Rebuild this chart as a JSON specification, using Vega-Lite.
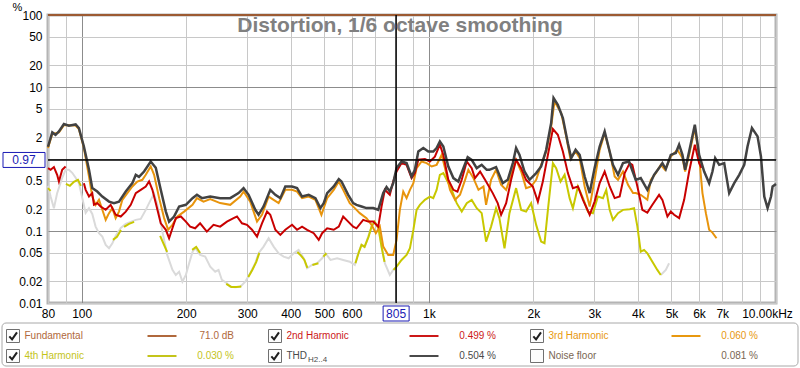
{
"$schema": "https://vega.github.io/schema/vega-lite/v6.json",
"width": 728, "height": 288,
"autosize": {"type": "none"},
"padding": {"left": 48, "top": 15, "right": 24, "bottom": 65},
"background": "white",
"config": {
  "view": {"stroke": "#b4b4b4", "strokeWidth": 3},
  "font": "Liberation Sans",
  "axis": {"labelFont": "Liberation Sans", "labelFontSize": 12, "labelColor": "#000000", "domain": false, "ticks": false}
},
"title": {"text": "Distortion, 1/6 octave smoothing", "anchor": "middle", "frame": "group", "baseline": "top", "offset": -35, "dx": -12, "fontSize": 21, "fontWeight": "bold", "color": "#808080", "font": "Liberation Sans"},
"datasets": {
"thd": [{"f":80,"p":1.48},{"f":82.3,"p":2.34},{"f":84.1,"p":2.17},{"f":86.0,"p":2.41},{"f":88.9,"p":3.06},{"f":91.9,"p":2.90},{"f":96.1,"p":3.02},{"f":98.2,"p":2.69},{"f":101.5,"p":1.49},{"f":105.0,"p":0.708},{"f":107.3,"p":0.394},{"f":110.9,"p":0.353},{"f":114.7,"p":0.301},{"f":119.9,"p":0.256},{"f":123.9,"p":0.244},{"f":128.1,"p":0.256},{"f":134.0,"p":0.353},{"f":140.0,"p":0.462},{"f":143.2,"p":0.603},{"f":146.3,"p":0.566},{"f":151.3,"p":0.670},{"f":158.1,"p":0.923},{"f":163.5,"p":0.754},{"f":169.0,"p":0.373},{"f":174.8,"p":0.186},{"f":178.6,"p":0.135},{"f":184.6,"p":0.159},{"f":190.9,"p":0.219},{"f":199.6,"p":0.231},{"f":208.6,"p":0.286},{"f":214.8,"p":0.318},{"f":222.0,"p":0.286},{"f":234.6,"p":0.301},{"f":250.6,"p":0.286},{"f":267.9,"p":0.286},{"f":283.1,"p":0.336},{"f":292.7,"p":0.394},{"f":302.6,"p":0.318},{"f":316.3,"p":0.197},{"f":323.3,"p":0.168},{"f":334.2,"p":0.219},{"f":349.4,"p":0.373},{"f":361.3,"p":0.318},{"f":373.5,"p":0.286},{"f":386.1,"p":0.415},{"f":403.7,"p":0.415},{"f":417.3,"p":0.394},{"f":431.4,"p":0.301},{"f":450.8,"p":0.318},{"f":471.3,"p":0.286},{"f":487.2,"p":0.208},{"f":498.1,"p":0.244},{"f":509.5,"p":0.336},{"f":532.3,"p":0.415},{"f":550.4,"p":0.525},{"f":560.3,"p":0.487},{"f":585.8,"p":0.318},{"f":605.5,"p":0.244},{"f":618.9,"p":0.231},{"f":639.9,"p":0.219},{"f":661.5,"p":0.208},{"f":691.6,"p":0.208},{"f":715.0,"p":0.197},{"f":739.1,"p":0.336},{"f":755.4,"p":0.407},{"f":772.1,"p":0.353},{"f":789.7,"p":0.462},{"f":807.4,"p":0.747},{"f":834.6,"p":0.923},{"f":862.8,"p":0.877},{"f":892.0,"p":0.571},{"f":911.8,"p":0.708},{"f":932.6,"p":1.27},{"f":964.1,"p":1.42},{"f":996.8,"p":1.27},{"f":1030,"p":1.27},{"f":1053,"p":1.42},{"f":1076,"p":1.75},{"f":1101,"p":1.49},{"f":1138,"p":0.787},{"f":1177,"p":0.543},{"f":1216,"p":0.487},{"f":1258,"p":0.747},{"f":1294,"p":1.06},{"f":1329,"p":0.975},{"f":1374,"p":0.747},{"f":1420,"p":0.830},{"f":1468,"p":0.708},{"f":1495,"p":0.708},{"f":1562,"p":0.772},{"f":1633,"p":0.462},{"f":1688,"p":0.514},{"f":1746,"p":0.877},{"f":1784,"p":1.42},{"f":1825,"p":1.14},{"f":1886,"p":0.670},{"f":1950,"p":0.514},{"f":2038,"p":0.637},{"f":2106,"p":0.787},{"f":2178,"p":1.34},{"f":2251,"p":3.16},{"f":2287,"p":7.03},{"f":2353,"p":5.67},{"f":2433,"p":3.71},{"f":2515,"p":1.66},{"f":2571,"p":1.03},{"f":2647,"p":1.34},{"f":2719,"p":1.14},{"f":2811,"p":0.571},{"f":2906,"p":0.336},{"f":3003,"p":0.747},{"f":3105,"p":1.49},{"f":3210,"p":2.41},{"f":3281,"p":1.58},{"f":3391,"p":0.830},{"f":3507,"p":0.603},{"f":3625,"p":0.877},{"f":3773,"p":0.923},{"f":3945,"p":0.514},{"f":4077,"p":0.543},{"f":4260,"p":0.373},{"f":4455,"p":0.603},{"f":4605,"p":0.747},{"f":4707,"p":0.877},{"f":4815,"p":0.724},{"f":4977,"p":1.14},{"f":5145,"p":1.21},{"f":5259,"p":1.58},{"f":5377,"p":1.14},{"f":5474,"p":0.708},{"f":5621,"p":1.27},{"f":5837,"p":2.99},{"f":6007,"p":1.14},{"f":6210,"p":0.670},{"f":6419,"p":0.462},{"f":6561,"p":0.670},{"f":6680,"p":1.03},{"f":6861,"p":0.830},{"f":7092,"p":0.877},{"f":7331,"p":0.336},{"f":7580,"p":0.462},{"f":7836,"p":0.603},{"f":8100,"p":0.830},{"f":8279,"p":1.49},{"f":8525,"p":2.69},{"f":8849,"p":2.06},{"f":9051,"p":1.08},{"f":9251,"p":0.301},{"f":9457,"p":0.208},{"f":9674,"p":0.301},{"f":9777,"p":0.415},{"f":10000,"p":0.45}],
"h3": [{"f":80,"p":1.42},{"f":82.3,"p":2.22},{"f":86.0,"p":2.34},{"f":88.9,"p":2.96},{"f":96.1,"p":2.92},{"f":98.2,"p":2.61},{"f":101.5,"p":1.42},{"f":105.0,"p":0.571},{"f":107.3,"p":0.301},{"f":109.7,"p":0.231},{"f":112.2,"p":0.271},{"f":114.7,"p":0.197},{"f":117.3,"p":0.143},{"f":119.9,"p":0.177},{"f":122.6,"p":0.208},{"f":125.3,"p":0.151},{"f":128.1,"p":0.186},{"f":131.0,"p":0.271},{"f":135.4,"p":0.336},{"f":140.0,"p":0.415},{"f":144.7,"p":0.487},{"f":149.6,"p":0.514},{"f":153.0,"p":0.603},{"f":158.1,"p":0.787},{"f":161.7,"p":0.603},{"f":167.2,"p":0.286},{"f":172.8,"p":0.151},{"f":177.5,"p":0.104},{"f":182.6,"p":0.122},{"f":188.8,"p":0.159},{"f":197.3,"p":0.186},{"f":208.6,"p":0.231},{"f":214.8,"p":0.286},{"f":224.4,"p":0.256},{"f":234.6,"p":0.277},{"f":250.6,"p":0.244},{"f":267.9,"p":0.231},{"f":286.3,"p":0.301},{"f":292.7,"p":0.353},{"f":305.9,"p":0.256},{"f":320.0,"p":0.135},{"f":330.7,"p":0.168},{"f":345.6,"p":0.301},{"f":357.3,"p":0.271},{"f":369.3,"p":0.244},{"f":386.1,"p":0.373},{"f":403.7,"p":0.373},{"f":417.3,"p":0.353},{"f":431.4,"p":0.286},{"f":450.8,"p":0.301},{"f":471.3,"p":0.271},{"f":490.5,"p":0.168},{"f":509.5,"p":0.286},{"f":532.3,"p":0.373},{"f":550.4,"p":0.487},{"f":566.6,"p":0.373},{"f":591.9,"p":0.244},{"f":612.0,"p":0.208},{"f":632.6,"p":0.177},{"f":661.5,"p":0.151},{"f":683.9,"p":0.122},{"f":703.7,"p":0.0932},{"f":722.7,"p":0.115},{"f":739.1,"p":0.0607},{"f":764.0,"p":0.0465},{"f":789.7,"p":0.0465},{"f":807.4,"p":0.0752},{"f":825.2,"p":0.197},{"f":844.0,"p":0.353},{"f":862.8,"p":0.286},{"f":882.3,"p":0.373},{"f":902.5,"p":0.462},{"f":922.2,"p":0.747},{"f":953.3,"p":0.923},{"f":985.6,"p":0.877},{"f":1019,"p":0.787},{"f":1053,"p":0.830},{"f":1089,"p":1.14},{"f":1113,"p":0.747},{"f":1151,"p":0.373},{"f":1190,"p":0.271},{"f":1230,"p":0.318},{"f":1272,"p":0.514},{"f":1300,"p":0.708},{"f":1344,"p":0.543},{"f":1390,"p":0.373},{"f":1437,"p":0.415},{"f":1462,"p":0.231},{"f":1511,"p":0.514},{"f":1562,"p":0.708},{"f":1615,"p":0.438},{"f":1670,"p":0.373},{"f":1726,"p":0.603},{"f":1784,"p":0.975},{"f":1845,"p":0.670},{"f":1906,"p":0.394},{"f":1971,"p":0.415},{"f":2038,"p":0.514},{"f":2106,"p":0.830},{"f":2178,"p":1.27},{"f":2251,"p":2.83},{"f":2302,"p":6.31},{"f":2406,"p":4.35},{"f":2487,"p":2.06},{"f":2555,"p":1.03},{"f":2647,"p":1.27},{"f":2719,"p":1.03},{"f":2811,"p":0.415},{"f":2906,"p":0.219},{"f":3003,"p":0.514},{"f":3105,"p":1.34},{"f":3210,"p":2.29},{"f":3318,"p":1.27},{"f":3430,"p":0.571},{"f":3507,"p":0.514},{"f":3625,"p":0.670},{"f":3748,"p":0.438},{"f":3874,"p":0.336},{"f":3945,"p":0.336},{"f":4077,"p":0.318},{"f":4260,"p":0.271},{"f":4358,"p":0.514},{"f":4505,"p":0.637},{"f":4657,"p":0.830},{"f":4792,"p":0.708},{"f":4977,"p":1.08},{"f":5200,"p":1.34},{"f":5377,"p":1.03},{"f":5474,"p":0.670},{"f":5621,"p":1.14},{"f":5837,"p":2.69},{"f":6007,"p":1.08},{"f":6140,"p":0.336},{"f":6281,"p":0.177},{"f":6419,"p":0.104},{"f":6561,"p":0.095},{"f":6740,"p":0.0794}],
"h2": [{"k":0,"f":80,"p":0.747},{"k":0,"f":81.4,"p":0.708},{"k":0,"f":83.2,"p":0.772},{"k":0,"f":85.0,"p":0.603},{"k":0,"f":86.0,"p":0.487},{"k":0,"f":87.9,"p":0.708},{"k":0,"f":89.9,"p":0.787},{"k":1,"f":101.5,"p":0.462},{"k":1,"f":102.7,"p":0.373},{"k":1,"f":105.0,"p":0.301},{"k":1,"f":107.3,"p":0.336},{"k":1,"f":108.5,"p":0.231},{"k":1,"f":110.9,"p":0.244},{"k":1,"f":113.4,"p":0.219},{"k":1,"f":117.3,"p":0.197},{"k":1,"f":121.2,"p":0.231},{"k":1,"f":125.3,"p":0.168},{"k":1,"f":129.6,"p":0.159},{"k":1,"f":134.0,"p":0.186},{"k":1,"f":138.5,"p":0.231},{"k":1,"f":143.2,"p":0.336},{"k":1,"f":148.0,"p":0.373},{"k":1,"f":153.0,"p":0.415},{"k":1,"f":156.4,"p":0.487},{"k":1,"f":159.9,"p":0.373},{"k":1,"f":163.5,"p":0.244},{"k":1,"f":169.0,"p":0.128},{"k":1,"f":174.8,"p":0.104},{"k":1,"f":178.6,"p":0.0794},{"k":1,"f":182.6,"p":0.109},{"k":1,"f":186.7,"p":0.151},{"k":1,"f":193.1,"p":0.159},{"k":1,"f":199.6,"p":0.135},{"k":1,"f":205.4,"p":0.115},{"k":1,"f":212.3,"p":0.109},{"k":1,"f":219.4,"p":0.128},{"k":1,"f":229.4,"p":0.0981},{"k":1,"f":239.8,"p":0.122},{"k":1,"f":250.6,"p":0.115},{"k":1,"f":262.1,"p":0.135},{"k":1,"f":273.9,"p":0.151},{"k":1,"f":280.2,"p":0.159},{"k":1,"f":289.6,"p":0.128},{"k":1,"f":299.4,"p":0.122},{"k":1,"f":309.5,"p":0.104},{"k":1,"f":320.0,"p":0.0836},{"k":1,"f":330.7,"p":0.128},{"k":1,"f":342.0,"p":0.186},{"k":1,"f":349.4,"p":0.168},{"k":1,"f":361.3,"p":0.104},{"k":1,"f":373.5,"p":0.0883},{"k":1,"f":386.1,"p":0.104},{"k":1,"f":403.7,"p":0.122},{"k":1,"f":417.3,"p":0.104},{"k":1,"f":431.4,"p":0.115},{"k":1,"f":446.1,"p":0.104},{"k":1,"f":466.1,"p":0.0932},{"k":1,"f":481.8,"p":0.0752},{"k":1,"f":492.8,"p":0.0932},{"k":1,"f":509.5,"p":0.109},{"k":1,"f":532.3,"p":0.104},{"k":1,"f":550.4,"p":0.115},{"k":1,"f":566.6,"p":0.159},{"k":1,"f":585.8,"p":0.135},{"k":1,"f":605.5,"p":0.115},{"k":1,"f":618.9,"p":0.109},{"k":1,"f":647.1,"p":0.143},{"k":1,"f":669.0,"p":0.135},{"k":1,"f":691.6,"p":0.135},{"k":1,"f":715.0,"p":0.115},{"k":1,"f":730.8,"p":0.219},{"k":1,"f":747.0,"p":0.373},{"k":1,"f":772.1,"p":0.318},{"k":1,"f":789.7,"p":0.487},{"k":1,"f":807.4,"p":0.670},{"k":1,"f":834.6,"p":0.877},{"k":1,"f":862.8,"p":0.830},{"k":1,"f":892.0,"p":0.543},{"k":1,"f":911.8,"p":0.637},{"k":1,"f":932.6,"p":0.975},{"k":1,"f":974.3,"p":0.997},{"k":1,"f":1007,"p":0.923},{"k":1,"f":1041,"p":1.08},{"k":1,"f":1076,"p":1.58},{"k":1,"f":1101,"p":1.14},{"k":1,"f":1138,"p":0.514},{"k":1,"f":1177,"p":0.373},{"k":1,"f":1209,"p":0.353},{"k":1,"f":1244,"p":0.514},{"k":1,"f":1286,"p":0.923},{"k":1,"f":1329,"p":0.747},{"k":1,"f":1358,"p":0.543},{"k":1,"f":1405,"p":0.670},{"k":1,"f":1452,"p":0.514},{"k":1,"f":1528,"p":0.336},{"k":1,"f":1579,"p":0.244},{"k":1,"f":1615,"p":0.168},{"k":1,"f":1670,"p":0.244},{"k":1,"f":1726,"p":0.514},{"k":1,"f":1784,"p":0.975},{"k":1,"f":1845,"p":0.747},{"k":1,"f":1906,"p":0.514},{"k":1,"f":1993,"p":0.415},{"k":1,"f":2061,"p":0.256},{"k":1,"f":2130,"p":0.487},{"k":1,"f":2203,"p":1.14},{"k":1,"f":2277,"p":2.61},{"k":1,"f":2353,"p":2.17},{"k":1,"f":2433,"p":1.27},{"k":1,"f":2515,"p":0.637},{"k":1,"f":2600,"p":0.394},{"k":1,"f":2688,"p":0.415},{"k":1,"f":2780,"p":0.271},{"k":1,"f":2906,"p":0.168},{"k":1,"f":3003,"p":0.256},{"k":1,"f":3105,"p":0.462},{"k":1,"f":3210,"p":0.670},{"k":1,"f":3318,"p":0.415},{"k":1,"f":3430,"p":0.286},{"k":1,"f":3546,"p":0.301},{"k":1,"f":3666,"p":0.637},{"k":1,"f":3791,"p":0.877},{"k":1,"f":3857,"p":0.830},{"k":1,"f":3988,"p":0.415},{"k":1,"f":4121,"p":0.197},{"k":1,"f":4260,"p":0.180},{"k":1,"f":4405,"p":0.231},{"k":1,"f":4605,"p":0.318},{"k":1,"f":4707,"p":0.271},{"k":1,"f":4867,"p":0.159},{"k":1,"f":4977,"p":0.186},{"k":1,"f":5088,"p":0.168},{"k":1,"f":5261,"p":0.151},{"k":1,"f":5438,"p":0.271},{"k":1,"f":5621,"p":0.670},{"k":1,"f":5837,"p":1.58},{"k":1,"f":6007,"p":0.877},{"k":1,"f":6098,"p":0.754}],
"h4": [{"k":0,"f":80,"p":0.394},{"k":0,"f":81.4,"p":0.361},{"k":1,"f":90.1,"p":0.452},{"k":1,"f":92.5,"p":0.424},{"k":1,"f":95.0,"p":0.482},{"k":1,"f":97.6,"p":0.514},{"k":1,"f":99.5,"p":0.424},{"k":2,"f":123.1,"p":0.0752},{"k":2,"f":126.4,"p":0.0828},{"k":2,"f":129.8,"p":0.1035},{"k":3,"f":132.5,"p":0.114},{"k":3,"f":136.9,"p":0.1256},{"k":3,"f":141.6,"p":0.1338},{"k":4,"f":168.3,"p":0.0855},{"k":4,"f":171.7,"p":0.0683},{"k":4,"f":176.3,"p":0.0512},{"k":5,"f":208.1,"p":0.0546},{"k":5,"f":213.8,"p":0.0601},{"k":5,"f":219.4,"p":0.0496},{"k":6,"f":260.9,"p":0.0184},{"k":6,"f":269.8,"p":0.0167},{"k":6,"f":278.8,"p":0.0167},{"k":6,"f":288.3,"p":0.0169},{"k":7,"f":302.0,"p":0.023},{"k":7,"f":310.1,"p":0.0288},{"k":7,"f":318.4,"p":0.0372},{"k":7,"f":324.9,"p":0.0496},{"k":8,"f":418.1,"p":0.0512},{"k":8,"f":426.6,"p":0.0465},{"k":8,"f":438.2,"p":0.0396},{"k":8,"f":446.9,"p":0.0307},{"k":9,"f":462.0,"p":0.0338},{"k":9,"f":480.8,"p":0.0357},{"k":10,"f":497.1,"p":0.0441},{"k":10,"f":507.1,"p":0.0491},{"k":11,"f":614.8,"p":0.0357},{"k":11,"f":627.3,"p":0.0491},{"k":11,"f":639.9,"p":0.0641},{"k":11,"f":652.8,"p":0.0601},{"k":11,"f":670.4,"p":0.0828},{"k":11,"f":683.9,"p":0.1151},{"k":11,"f":697.6,"p":0.135},{"k":11,"f":716.2,"p":0.1094},{"k":11,"f":730.8,"p":0.0607},{"k":11,"f":745.4,"p":0.0372},{"k":12,"f":791.3,"p":0.0288},{"k":12,"f":807.4,"p":0.032},{"k":12,"f":834.6,"p":0.0396},{"k":12,"f":862.8,"p":0.0465},{"k":12,"f":882.3,"p":0.0576},{"k":12,"f":902.5,"p":0.1035},{"k":12,"f":922.2,"p":0.1965},{"k":12,"f":942.5,"p":0.2307},{"k":12,"f":974.3,"p":0.2707},{"k":12,"f":1007,"p":0.301},{"k":12,"f":1030,"p":0.286},{"k":12,"f":1053,"p":0.373},{"k":12,"f":1076,"p":0.603},{"k":12,"f":1101,"p":0.637},{"k":12,"f":1126,"p":0.514},{"k":12,"f":1164,"p":0.373},{"k":12,"f":1203,"p":0.2436},{"k":12,"f":1244,"p":0.186},{"k":12,"f":1286,"p":0.2436},{"k":12,"f":1329,"p":0.2707},{"k":12,"f":1374,"p":0.2075},{"k":12,"f":1420,"p":0.1769},{"k":12,"f":1462,"p":0.0712},{"k":12,"f":1511,"p":0.1151},{"k":12,"f":1562,"p":0.2075},{"k":12,"f":1597,"p":0.1507},{"k":12,"f":1652,"p":0.0576},{"k":12,"f":1707,"p":0.1769},{"k":12,"f":1784,"p":0.394},{"k":12,"f":1845,"p":0.1965},{"k":12,"f":1906,"p":0.186},{"k":12,"f":1971,"p":0.2436},{"k":12,"f":2038,"p":0.1216},{"k":12,"f":2106,"p":0.0712},{"k":12,"f":2154,"p":0.0677},{"k":12,"f":2203,"p":0.1965},{"k":12,"f":2277,"p":0.877},{"k":12,"f":2327,"p":0.747},{"k":12,"f":2396,"p":0.486},{"k":12,"f":2461,"p":0.603},{"k":12,"f":2544,"p":0.286},{"k":12,"f":2600,"p":0.2075},{"k":12,"f":2688,"p":0.4146},{"k":12,"f":2780,"p":0.286},{"k":12,"f":2873,"p":0.186},{"k":12,"f":2969,"p":0.1769},{"k":12,"f":3070,"p":0.301},{"k":12,"f":3174,"p":0.286},{"k":12,"f":3244,"p":0.373},{"k":12,"f":3318,"p":0.1965},{"k":12,"f":3391,"p":0.1427},{"k":12,"f":3507,"p":0.1769},{"k":12,"f":3625,"p":0.1965},{"k":12,"f":3791,"p":0.201},{"k":12,"f":3901,"p":0.2075},{"k":12,"f":3988,"p":0.1151},{"k":12,"f":4077,"p":0.0517},{"k":12,"f":4169,"p":0.0546},{"k":12,"f":4260,"p":0.0491},{"k":12,"f":4405,"p":0.0375},{"k":12,"f":4552,"p":0.0288},{"k":12,"f":4657,"p":0.0245}],
"nf": [{"k":0,"f":80,"p":0.424},{"k":0,"f":81.4,"p":0.301},{"k":0,"f":83.2,"p":0.2075},{"k":0,"f":85.0,"p":0.3355},{"k":0,"f":87.9,"p":0.548},{"k":0,"f":89.9,"p":0.708},{"k":0,"f":91.9,"p":0.708},{"k":0,"f":93.95,"p":0.643},{"k":0,"f":96.1,"p":0.548},{"k":0,"f":98.2,"p":0.462},{"k":0,"f":100.4,"p":0.2887},{"k":0,"f":102.7,"p":0.1785},{"k":0,"f":105.0,"p":0.2075},{"k":0,"f":107.3,"p":0.1729},{"k":0,"f":109.7,"p":0.1151},{"k":0,"f":112.2,"p":0.0932},{"k":0,"f":114.7,"p":0.0836},{"k":0,"f":117.3,"p":0.0641},{"k":0,"f":119.9,"p":0.0576},{"k":0,"f":122.6,"p":0.0677},{"k":0,"f":125.3,"p":0.0855},{"k":0,"f":129.6,"p":0.1104},{"k":0,"f":134.0,"p":0.1256},{"k":0,"f":138.5,"p":0.1338},{"k":0,"f":143.2,"p":0.1427},{"k":0,"f":148.0,"p":0.1474},{"k":0,"f":153.0,"p":0.1965},{"k":0,"f":158.1,"p":0.2707},{"k":0,"f":161.7,"p":0.328},{"k":0,"f":165.3,"p":0.2307},{"k":0,"f":170.9,"p":0.0972},{"k":0,"f":176.4,"p":0.0465},{"k":0,"f":182.6,"p":0.0288},{"k":0,"f":186.7,"p":0.0245},{"k":0,"f":190.9,"p":0.0272},{"k":0,"f":195.1,"p":0.0198},{"k":0,"f":199.6,"p":0.0245},{"k":0,"f":204.0,"p":0.0357},{"k":0,"f":208.6,"p":0.0512},{"k":0,"f":212.3,"p":0.0582},{"k":0,"f":219.4,"p":0.0465},{"k":0,"f":226.9,"p":0.0441},{"k":0,"f":234.6,"p":0.032},{"k":0,"f":242.5,"p":0.0272},{"k":0,"f":247.9,"p":0.0288},{"k":0,"f":253.5,"p":0.0209},{"k":0,"f":262.1,"p":0.0188},{"k":0,"f":267.9,"p":0.01685},{"k":0,"f":277.0,"p":0.01654},{"k":0,"f":286.3,"p":0.01685},{"k":0,"f":296.0,"p":0.0198},{"k":0,"f":305.9,"p":0.0259},{"k":0,"f":316.3,"p":0.0357},{"k":0,"f":323.3,"p":0.0491},{"k":0,"f":334.2,"p":0.0607},{"k":0,"f":345.6,"p":0.0794},{"k":0,"f":357.3,"p":0.0607},{"k":0,"f":369.3,"p":0.0491},{"k":0,"f":381.8,"p":0.0441},{"k":0,"f":394.7,"p":0.0418},{"k":0,"f":408.0,"p":0.0491},{"k":0,"f":421.7,"p":0.0546},{"k":0,"f":436.1,"p":0.0418},{"k":0,"f":446.1,"p":0.0304},{"k":0,"f":461.1,"p":0.0338},{"k":0,"f":476.7,"p":0.0357},{"k":0,"f":492.8,"p":0.0418},{"k":0,"f":503.8,"p":0.0491},{"k":0,"f":520.8,"p":0.0396},{"k":0,"f":544.5,"p":0.0418},{"k":0,"f":566.6,"p":0.0396},{"k":0,"f":591.9,"p":0.0375},{"k":0,"f":612.0,"p":0.0338},{"k":0,"f":626.0,"p":0.0491},{"k":0,"f":639.9,"p":0.0641},{"k":0,"f":654.1,"p":0.0607},{"k":0,"f":669.0,"p":0.0836},{"k":0,"f":683.9,"p":0.1151},{"k":0,"f":698.9,"p":0.135},{"k":0,"f":715.0,"p":0.1094},{"k":0,"f":730.8,"p":0.0607},{"k":0,"f":747.0,"p":0.0357},{"k":0,"f":772.1,"p":0.0245},{"k":0,"f":789.7,"p":0.0288},{"k":0,"f":807.4,"p":0.032},{"k":1,"f":4657,"p":0.0245},{"k":1,"f":4815,"p":0.0288},{"k":1,"f":4921,"p":0.0357}],
"fund": [{"f":80,"p":100},{"f":10000,"p":100}],
"cursor": [{"cf":805,"cp":0.97}],
"legend": [{"name":"Fundamental","g":0,"row":0,"val":"71.0 dB","chk":1},{"name":"2nd Harmonic","g":1,"row":0,"val":"0.499 %","chk":1},{"name":"3rd Harmonic","g":2,"row":0,"val":"0.060 %","chk":1},{"name":"4th Harmonic","g":0,"row":1,"val":"0.030 %","chk":1},{"name":"THD","sub":"H2..4","g":1,"row":1,"val":"0.504 %","chk":1},{"name":"Noise floor","g":2,"row":1,"val":"0.081 %","chk":0}]
},
"layer": [
  {"data": {"name": "nf"}, "mark": {"type": "line", "color": "#dadada", "strokeWidth": 2},
   "encoding": {
    "x": {"field": "f", "type": "quantitative", "scale": {"type": "log", "domain": [80, 10000], "nice": false},
      "axis": {"values": [80,90,100,200,300,400,500,600,700,800,900,1000,2000,3000,4000,5000,6000,7000,8000,9000,10000], "title": null, "grid": true, "gridColor": {"condition": {"test": "datum.value == 100 || datum.value == 1000", "value": "#8c8c8c"}, "value": "#c8c8c8"}, "labelExpr": "datum.value == 10000 ? '10.00kHz' : (indexof([80,100,200,300,400,500,600,1000,2000,3000,4000,5000,6000,7000], datum.value) >= 0 ? (datum.value >= 1000 ? (datum.value / 1000) + 'k' : '' + datum.value) : '')", "labelOverlap": false, "labelFlush": false, "labelBound": false, "labelPadding": 5, "labelOffset": {"condition": {"test": "datum.value == 10000", "value": -9}, "value": 0}}},
    "y": {"field": "p", "type": "quantitative", "scale": {"type": "log", "domain": [0.01, 100], "nice": false},
      "axis": {"values": [0.01,0.02,0.05,0.1,0.2,0.5,1,2,5,10,20,50,100], "grid": true, "gridColor": {"condition": {"test": "datum.value == 10 || datum.value == 1 || datum.value == 0.1", "value": "#8c8c8c"}, "value": "#c8c8c8"}, "labelExpr": "datum.value == 1 ? '' : '' + datum.value", "labelOverlap": false, "labelFlush": false, "labelPadding": 6, "title": "%", "titleAngle": 0, "titleX": -31, "titleY": -5, "titleAlign": "center", "titleBaseline": "alphabetic", "titleFontWeight": "normal", "titleFontSize": 11, "titleColor": "#000000", "titleFont": "Liberation Sans"}},
    "detail": {"field": "k"}}},
  {"data": {"name": "h4"}, "mark": {"type": "line", "color": "#c8c800", "strokeWidth": 2},
   "encoding": {"x": {"field": "f", "type": "quantitative", "scale": {"type": "log", "domain": [80, 10000], "nice": false}, "axis": null}, "y": {"field": "p", "type": "quantitative", "scale": {"type": "log", "domain": [0.01, 100], "nice": false}, "axis": null}, "detail": {"field": "k"}}},
  {"data": {"name": "h3"}, "mark": {"type": "line", "color": "#e8940c", "strokeWidth": 2},
   "encoding": {"x": {"field": "f", "type": "quantitative", "scale": {"type": "log", "domain": [80, 10000], "nice": false}, "axis": null}, "y": {"field": "p", "type": "quantitative", "scale": {"type": "log", "domain": [0.01, 100], "nice": false}, "axis": null}}},
  {"data": {"name": "h2"}, "mark": {"type": "line", "color": "#c80000", "strokeWidth": 2},
   "encoding": {"x": {"field": "f", "type": "quantitative", "scale": {"type": "log", "domain": [80, 10000], "nice": false}, "axis": null}, "y": {"field": "p", "type": "quantitative", "scale": {"type": "log", "domain": [0.01, 100], "nice": false}, "axis": null}, "detail": {"field": "k"}}},
  {"data": {"name": "thd"}, "mark": {"type": "line", "color": "#424242", "strokeWidth": 2.5},
   "encoding": {"x": {"field": "f", "type": "quantitative", "scale": {"type": "log", "domain": [80, 10000], "nice": false}, "axis": null}, "y": {"field": "p", "type": "quantitative", "scale": {"type": "log", "domain": [0.01, 100], "nice": false}, "axis": null}}},
  {"data": {"name": "fund"}, "mark": {"type": "line", "color": "#9c5a32", "strokeWidth": 2},
   "encoding": {"x": {"field": "f", "type": "quantitative", "scale": {"type": "log", "domain": [80, 10000], "nice": false}, "axis": null}, "y": {"field": "p", "type": "quantitative", "scale": {"type": "log", "domain": [0.01, 100], "nice": false}, "axis": null}}},
  {"data": {"name": "cursor"}, "mark": {"type": "rule", "color": "#000000", "strokeWidth": 1.5},
   "encoding": {"x": {"field": "cf", "type": "quantitative", "scale": {"type": "log", "domain": [80, 10000], "nice": false}, "axis": null}}},
  {"data": {"name": "cursor"}, "mark": {"type": "rule", "color": "#000000", "strokeWidth": 1.5},
   "encoding": {"y": {"field": "cp", "type": "quantitative", "scale": {"type": "log", "domain": [0.01, 100], "nice": false}, "axis": null}}},
  {"data": {"name": "cursor"}, "mark": {"type": "point", "shape": "M-1,-0.577H1V0.577H-1Z", "size": 676, "filled": true, "fill": "#ffffff", "stroke": "#1a1ab4", "strokeWidth": 1, "opacity": 1, "yOffset": 10.5},
   "encoding": {"x": {"field": "cf", "type": "quantitative", "scale": {"type": "log", "domain": [80, 10000], "nice": false}, "axis": null}, "y": {"datum": 0.01, "type": "quantitative", "scale": {"type": "log", "domain": [0.01, 100], "nice": false}, "axis": null}}},
  {"data": {"name": "cursor"}, "mark": {"type": "text", "color": "#1a1ab4", "fontSize": 12, "font": "Liberation Sans", "baseline": "middle", "align": "center", "yOffset": 10.5},
   "encoding": {"x": {"field": "cf", "type": "quantitative", "scale": {"type": "log", "domain": [80, 10000], "nice": false}, "axis": null}, "y": {"datum": 0.01, "type": "quantitative", "scale": {"type": "log", "domain": [0.01, 100], "nice": false}, "axis": null}, "text": {"field": "cf", "type": "quantitative", "format": "d"}}},
  {"data": {"name": "cursor"}, "mark": {"type": "point", "shape": "M-1,-0.357H1V0.357H-1Z", "size": 1764, "filled": true, "fill": "#ffffff", "stroke": "#1a1ab4", "strokeWidth": 1, "opacity": 1, "xOffset": -24},
   "encoding": {"x": {"datum": 80, "type": "quantitative", "scale": {"type": "log", "domain": [80, 10000], "nice": false}, "axis": null}, "y": {"field": "cp", "type": "quantitative", "scale": {"type": "log", "domain": [0.01, 100], "nice": false}, "axis": null}}},
  {"data": {"name": "cursor"}, "mark": {"type": "text", "color": "#1a1ab4", "fontSize": 12, "font": "Liberation Sans", "baseline": "middle", "align": "center", "xOffset": -24},
   "encoding": {"x": {"datum": 80, "type": "quantitative", "scale": {"type": "log", "domain": [80, 10000], "nice": false}, "axis": null}, "y": {"field": "cp", "type": "quantitative", "scale": {"type": "log", "domain": [0.01, 100], "nice": false}, "axis": null}, "text": {"field": "cp", "type": "quantitative", "format": ".2f"}}},
  {"data": {"name": "legend"}, "transform": [{"filter": "datum.g == 0 && datum.row == 0"}],
   "mark": {"type": "rect", "fill": "#ffffff", "stroke": "#a8a8a8", "strokeWidth": 1, "cornerRadius": 4, "xOffset": -1, "x2Offset": 9, "yOffset": -13, "y2Offset": 10},
   "encoding": {"x": {"datum": 0, "type": "quantitative", "scale": {"domain": [0, 3], "range": [-45, 741], "nice": false, "zero": false}, "axis": null}, "x2": {"datum": 3}, "y": {"datum": 0, "type": "quantitative", "scale": {"domain": [0, 1], "range": [321, 341], "nice": false, "zero": false}, "axis": null}, "y2": {"datum": 1}}},
  {"data": {"name": "legend"},
   "mark": {"type": "point", "shape": "square", "size": 169, "filled": true, "fill": "#fcfcfc", "stroke": "#707070", "strokeWidth": 1, "opacity": 1, "xOffset": 10},
   "encoding": {"x": {"field": "g", "type": "quantitative", "scale": {"domain": [0, 3], "range": [-45, 741], "nice": false, "zero": false}, "axis": null}, "y": {"field": "row", "type": "quantitative", "scale": {"domain": [0, 1], "range": [321, 341], "nice": false, "zero": false}, "axis": null}}},
  {"data": {"name": "legend"}, "transform": [{"filter": "datum.chk == 1"}],
   "mark": {"type": "point", "shape": "M-0.6,0.05L-0.15,0.55L0.65,-0.6", "size": 150, "filled": false, "stroke": "#1e1e1e", "strokeWidth": 2, "opacity": 1, "xOffset": 10},
   "encoding": {"x": {"field": "g", "type": "quantitative", "scale": {"domain": [0, 3], "range": [-45, 741], "nice": false, "zero": false}, "axis": null}, "y": {"field": "row", "type": "quantitative", "scale": {"domain": [0, 1], "range": [321, 341], "nice": false, "zero": false}, "axis": null}}},
  {"data": {"name": "legend"},
   "mark": {"type": "text", "align": "left", "baseline": "middle", "dx": 21.5, "fontSize": 10, "font": "Liberation Sans"},
   "encoding": {"x": {"field": "g", "type": "quantitative", "scale": {"domain": [0, 3], "range": [-45, 741], "nice": false, "zero": false}, "axis": null}, "y": {"field": "row", "type": "quantitative", "scale": {"domain": [0, 1], "range": [321, 341], "nice": false, "zero": false}, "axis": null},
    "text": {"field": "name"}, "color": {"field": "name", "type": "nominal", "scale": {"domain": ["Fundamental","2nd Harmonic","3rd Harmonic","4th Harmonic","THD","Noise floor"], "range": ["#b0683c","#cc1818","#e8980f","#c4c41a","#4a4a4a","#7a6652"]}, "legend": null}}},
  {"data": {"name": "legend"}, "transform": [{"filter": "datum.sub"}],
   "mark": {"type": "text", "align": "left", "baseline": "middle", "dx": 43, "dy": 4, "fontSize": 8, "font": "Liberation Sans", "color": "#4a4a4a"},
   "encoding": {"x": {"field": "g", "type": "quantitative", "scale": {"domain": [0, 3], "range": [-45, 741], "nice": false, "zero": false}, "axis": null}, "y": {"field": "row", "type": "quantitative", "scale": {"domain": [0, 1], "range": [321, 341], "nice": false, "zero": false}, "axis": null}, "text": {"field": "sub"}}},
  {"data": {"name": "legend"}, "transform": [{"filter": "datum.name != 'Noise floor'"}],
   "mark": {"type": "point", "shape": "M-1,0L1,0", "size": 841, "filled": false, "strokeWidth": 2, "opacity": 1, "xOffset": 159},
   "encoding": {"x": {"field": "g", "type": "quantitative", "scale": {"domain": [0, 3], "range": [-45, 741], "nice": false, "zero": false}, "axis": null}, "y": {"field": "row", "type": "quantitative", "scale": {"domain": [0, 1], "range": [321, 341], "nice": false, "zero": false}, "axis": null},
    "color": {"field": "name", "type": "nominal", "scale": {"domain": ["Fundamental","2nd Harmonic","3rd Harmonic","4th Harmonic","THD","Noise floor"], "range": ["#b0683c","#cc1818","#e8980f","#c4c41a","#4a4a4a","#7a6652"]}, "legend": null}}},
  {"data": {"name": "legend"},
   "mark": {"type": "text", "align": "right", "baseline": "middle", "dx": 231, "fontSize": 10, "font": "Liberation Sans"},
   "encoding": {"x": {"field": "g", "type": "quantitative", "scale": {"domain": [0, 3], "range": [-45, 741], "nice": false, "zero": false}, "axis": null}, "y": {"field": "row", "type": "quantitative", "scale": {"domain": [0, 1], "range": [321, 341], "nice": false, "zero": false}, "axis": null},
    "text": {"field": "val"}, "color": {"field": "name", "type": "nominal", "scale": {"domain": ["Fundamental","2nd Harmonic","3rd Harmonic","4th Harmonic","THD","Noise floor"], "range": ["#b0683c","#cc1818","#e8980f","#c4c41a","#4a4a4a","#7a6652"]}, "legend": null}}}
],
"resolve": {"scale": {"x": "independent", "y": "independent"}}
}
